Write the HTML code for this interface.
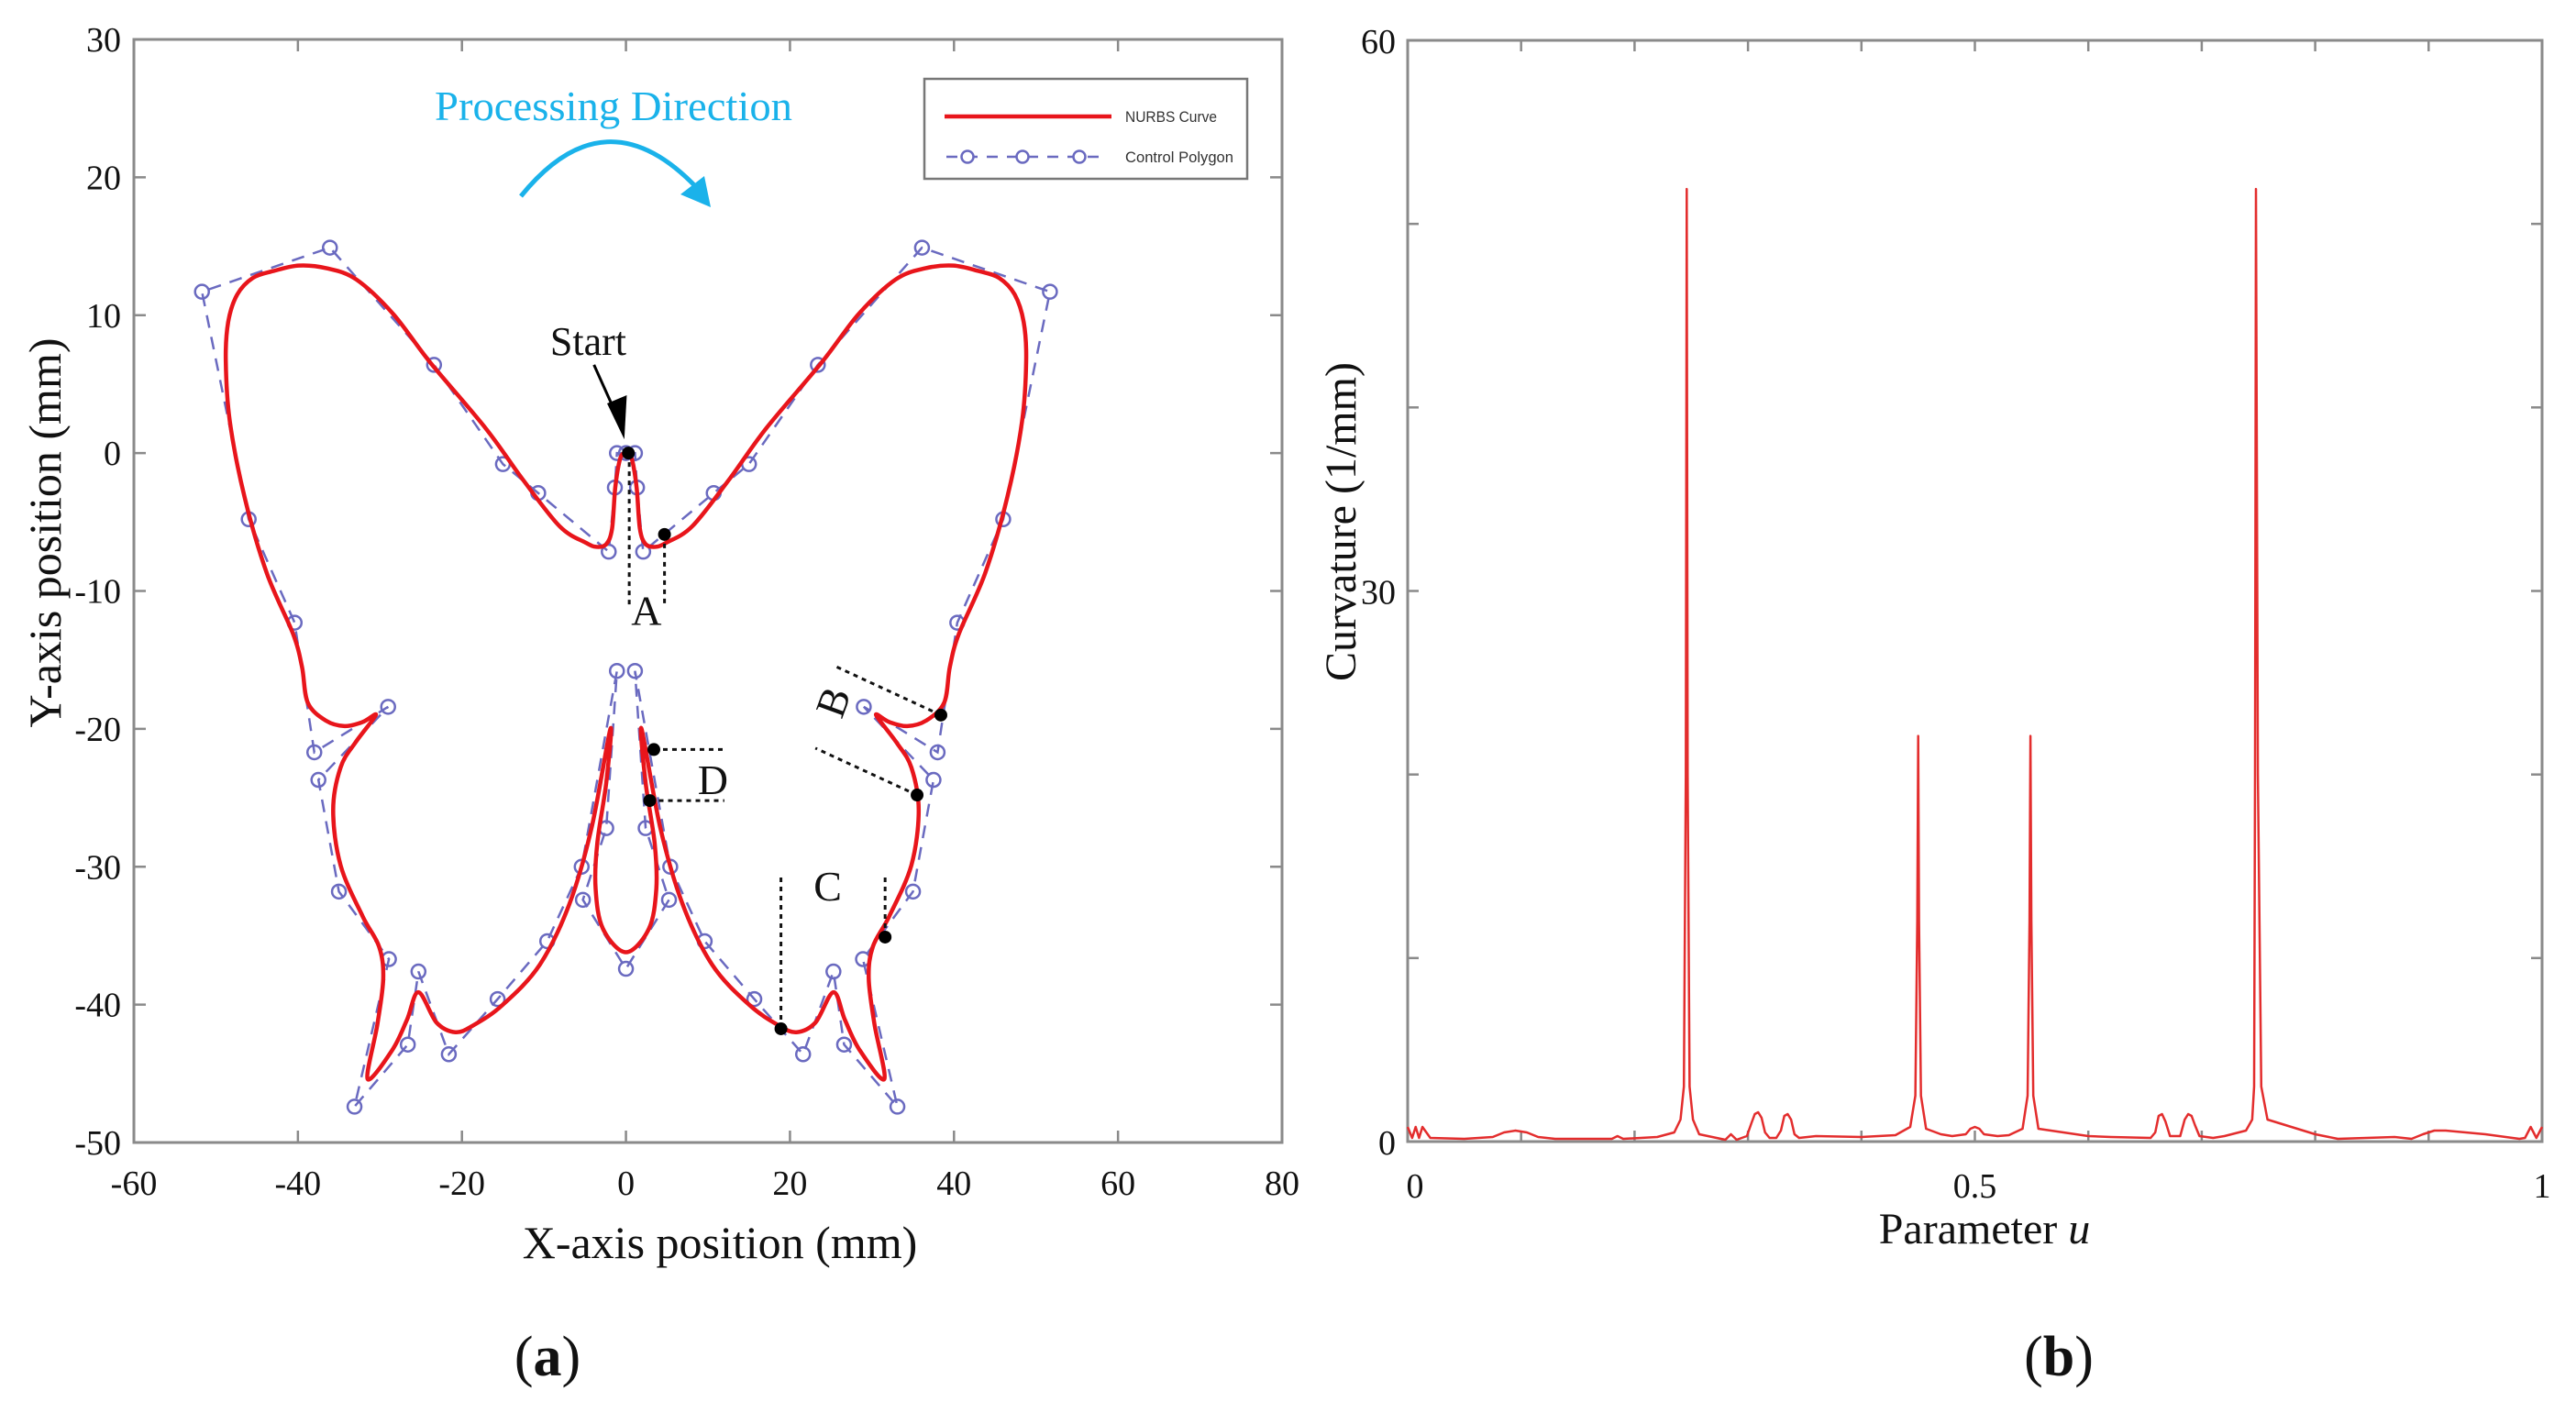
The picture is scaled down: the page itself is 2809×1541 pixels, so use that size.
<!DOCTYPE html>
<html><head><meta charset="utf-8"><style>
html,body{margin:0;padding:0;background:#fff}
svg{display:block}
.serif{font-family:"Liberation Serif",serif}
.sans{font-family:"Liberation Sans",sans-serif}
</style></head><body>
<svg id="fig" width="2809" height="1541" viewBox="0 0 2809 1541" xmlns="http://www.w3.org/2000/svg">
<g id="left"></g>
<g id="right"></g>
</svg>
<script>
// ---------- Left chart data ----------
const xTicksA = [-60,-40,-20,0,20,40,60,80];
const yTicksA = [30,20,10,0,-10,-20,-30,-40,-50];
const curveX = [0,-0.7,-1.3,-1.7,-2.4,-3.6,-4.9,-8.1,-12.6,-17.1,-23.9,-28.4,-32.9,-36.5,-39.9,-43,-45.5,-47.4,-48.5,-48.8,-48.3,-46.5,-43.8,-40.6,-39.5,-38.8,-36.6,-34.3,-32.1,-30.5,-33,-34.8,-35.7,-34.8,-32.1,-30.1,-29.6,-30.3,-31.5,-28.5,-26.7,-25.3,-23.1,-20.8,-18.6,-15,-10.5,-6.9,-4.2,-1.9,-2.4,-3.5,-3.7,-2.8,0];
const curveY = [0,-0.4,-2.5,-5.5,-6.6,-6.8,-6.5,-5.3,-1.9,1.8,6.6,10.1,12.6,13.4,13.6,13.2,12.7,11.5,9.5,6.7,2.3,-3.2,-8.7,-13.1,-15.5,-18.1,-19.4,-19.8,-19.5,-19.0,-21,-22.8,-25.9,-29.9,-33.6,-35.8,-38.1,-41.4,-45.4,-43.3,-41.1,-39.1,-41.3,-42.0,-41.5,-40,-37.1,-32.7,-27.2,-20.0,-23.9,-28.3,-31.6,-34.5,-36.2];
const ctrlX = [0,-1.1,-1.35,-2.1,-10.7,-15.0,-23.4,-36.1,-51.7,-46,-40.4,-38.0,-29.0,-37.5,-35.0,-28.9,-33.1,-26.6,-25.3,-21.6,-15.65,-9.6,-5.4,-1.1,-2.4,-5.25,0];
const ctrlY = [0,0,-2.5,-7.15,-2.9,-0.8,6.4,14.9,11.7,-4.8,-12.3,-21.7,-18.4,-23.7,-31.8,-36.7,-47.4,-42.9,-37.6,-43.6,-39.6,-35.4,-30.0,-15.8,-27.2,-32.4,-37.4];
const dotX = [0.3,4.7,3.4,2.9,38.4,35.5,18.9,31.6];
const dotY = [0,-5.9,-21.5,-25.2,-19.0,-24.8,-41.75,-35.1];

// ---------- Right chart data ----------
const uVals = [0,0.004,0.007,0.01,0.013,0.02,0.05,0.075,0.085,0.095,0.105,0.115,0.13,0.18,0.185,0.19,0.22,0.235,0.2405,0.2435,0.2452,0.246,0.2468,0.2485,0.2515,0.257,0.28,0.285,0.29,0.299,0.303,0.306,0.309,0.312,0.315,0.319,0.325,0.329,0.332,0.335,0.338,0.341,0.345,0.36,0.4,0.43,0.443,0.4475,0.4492,0.450,0.4508,0.4525,0.457,0.47,0.48,0.492,0.496,0.5,0.504,0.508,0.52,0.53,0.542,0.5465,0.5482,0.549,0.5498,0.5515,0.556,0.6,0.62,0.655,0.659,0.662,0.665,0.668,0.672,0.681,0.685,0.688,0.691,0.694,0.698,0.71,0.72,0.739,0.7445,0.7462,0.747,0.7478,0.7495,0.7525,0.758,0.8,0.82,0.87,0.885,0.895,0.905,0.915,0.95,0.98,0.985,0.99,0.995,1];
const kVals = [0.8,0.2,0.8,0.2,0.8,0.2,0.15,0.25,0.5,0.6,0.5,0.25,0.15,0.15,0.3,0.15,0.25,0.5,1.2,3,20,51.9,20,3,1.2,0.4,0.1,0.4,0.1,0.3,1.0,1.5,1.6,1.3,0.5,0.2,0.2,0.6,1.4,1.5,1.2,0.4,0.2,0.3,0.25,0.35,0.8,2.5,12,22.1,12,2.5,0.7,0.4,0.3,0.4,0.7,0.8,0.7,0.4,0.3,0.35,0.7,2.5,12,22.1,12,2.5,0.7,0.3,0.25,0.2,0.5,1.4,1.5,1.1,0.3,0.3,1.2,1.5,1.4,0.9,0.3,0.2,0.3,0.6,1.2,3,20,51.9,20,3,1.2,0.4,0.15,0.25,0.15,0.4,0.6,0.6,0.4,0.15,0.2,0.8,0.2,0.8,0.2,0.8];
const uTicks = [0,0.1,0.2,0.3,0.4,0.5,0.6,0.7,0.8,0.9,1];
const uTickLabels = ['0','0.5','1'];
const uTickLabelVals = [0,0.5,1];
const kTicks = [0,10,20,30,40,50,60];
const kTickLabels = ['0','30','60'];
const kTickLabelVals = [0,30,60];

const NS='http://www.w3.org/2000/svg';
function mk(tag, attrs, parent){const e=document.createElementNS(NS,tag);for(const k in attrs)e.setAttribute(k,attrs[k]);parent.appendChild(e);return e;}

// ---------- Left chart ----------
(function(){
const g=document.getElementById('left');
const L=146,R=1398,T=43,B=1246;
const sx=x=>L+(x+60)/140*(R-L);
const sy=y=>T+(30-y)/80*(B-T);
let e;
e=mk('rect',{x:L,y:T,width:R-L,height:B-T,fill:'none',stroke:'#8a8a8a','stroke-width':3},g);


xTicksA.forEach(v=>{
  mk('line',{x1:sx(v),x2:sx(v),y1:B,y2:B-13,stroke:'#8a8a8a','stroke-width':2.5},g);
  mk('line',{x1:sx(v),x2:sx(v),y1:T,y2:T+13,stroke:'#8a8a8a','stroke-width':2.5},g);
  const t=mk('text',{x:sx(v),y:1303,'text-anchor':'middle','font-size':38,class:'serif',fill:'#111'},g);
  t.textContent=String(v);
  
  
});
yTicksA.forEach(v=>{
  mk('line',{x1:L,x2:L+13,y1:sy(v),y2:sy(v),stroke:'#8a8a8a','stroke-width':2.5},g);
  mk('line',{x1:R,x2:R-13,y1:sy(v),y2:sy(v),stroke:'#8a8a8a','stroke-width':2.5},g);
  const t=mk('text',{x:132,y:sy(v)+13,'text-anchor':'end','font-size':38,class:'serif',fill:'#111'},g);
  t.textContent=String(v);
  
  
});
const cx=ctrlX.slice(), cy=ctrlY.slice();
for(let i=ctrlX.length-2;i>=1;i--){cx.push(-ctrlX[i]);cy.push(ctrlY[i]);}
let pts=cx.map((x,i)=>sx(x)+','+sy(cy[i])).join(' ');
e=mk('polygon',{points:pts,fill:'none',stroke:'#6a6ac0','stroke-width':2.5,'stroke-dasharray':'14 10'},g);


cx.forEach((x,i)=>{
  const c=mk('circle',{cx:sx(x),cy:sy(cy[i]),r:7.5,fill:'none',stroke:'#6a6ac0','stroke-width':2.5},g);
  
  
});
const px=curveX.slice(), py=curveY.slice();
for(let i=curveX.length-2;i>=1;i--){px.push(-curveX[i]);py.push(curveY[i]);}
const P=px.map((x,i)=>[sx(x),sy(py[i])]);
const n=P.length;
let d='M'+P[0][0]+','+P[0][1];
for(let i=0;i<n;i++){
  const p0=P[(i-1+n)%n],p1=P[i],p2=P[(i+1)%n],p3=P[(i+2)%n];
  const c1=[p1[0]+(p2[0]-p0[0])/6,p1[1]+(p2[1]-p0[1])/6];
  const c2=[p2[0]-(p3[0]-p1[0])/6,p2[1]-(p3[1]-p1[1])/6];
  d+=' C'+c1[0].toFixed(1)+','+c1[1].toFixed(1)+' '+c2[0].toFixed(1)+','+c2[1].toFixed(1)+' '+p2[0].toFixed(1)+','+p2[1].toFixed(1);
}
e=mk('path',{d:d,fill:'none',stroke:'#e8151b','stroke-width':4.5,'stroke-linejoin':'round'},g);


const dl=(x1,y1,x2,y2)=>{const l=mk('line',{x1:sx(x1),y1:sy(y1),x2:sx(x2),y2:sy(y2),stroke:'#111','stroke-width':3,'stroke-dasharray':'5 5'},g);};
dl(0.4,0,0.4,-11.2); dl(4.7,-5.9,4.7,-10.9);
dl(3.4,-21.5,11.8,-21.5); dl(2.9,-25.2,12.0,-25.2);
dl(38.4,-19,25.3,-15.4); dl(35.5,-24.8,23.1,-21.4);
dl(18.9,-41.75,18.9,-30.6); dl(31.6,-35.1,31.6,-30.6);
dotX.forEach((x,i)=>{
  const c=mk('circle',{cx:sx(x),cy:sy(dotY[i]),r:7,fill:'#000'},g);
  
  
});
const lab=(txt,x,y,size,name,extra)=>{const t=mk('text',Object.assign({x:x,y:y,'text-anchor':'middle','font-size':size,class:'serif',fill:'#111'},extra||{}),g);t.textContent=txt;return t;};
lab('A',sx(2.5),sy(-11)+22,46,'label-a');
lab('D',sx(10.6),sy(-23.4)+20,46,'label-d');
lab('C',sx(24.6),sy(-31.1)+20,46,'label-c');
lab('B',0,0,46,'label-b',{transform:'translate('+(sx(25.1)+16)+','+sy(-18.4)+') rotate(-70)'});
lab('Start',sx(-4.6),sy(8.2)+16,44,'start-label');
e=mk('line',{x1:sx(-3.9),y1:sy(6.4),x2:sx(-0.8),y2:sy(2.3),stroke:'#000','stroke-width':3},g);


e=mk('polygon',{points:(sx(-0.2))+','+(sy(1.0))+' '+(sx(-2.3))+','+(sy(3.6))+' '+(sx(0.1))+','+(sy(4.2)),fill:'#000'},g);


lab('Processing Direction',669,131,46,'processing-direction-label',{fill:'#1ab2ea',textLength:390,lengthAdjust:'spacingAndGlyphs'});
e=mk('path',{d:'M568,214 Q660,100 760,205',fill:'none',stroke:'#1ab2ea','stroke-width':5},g);


e=mk('polygon',{points:'775,226 742,212 768,192',fill:'#1ab2ea'},g);


const lg=mk('g',{},g);


mk('rect',{x:1008,y:86,width:352,height:109,fill:'#fff',stroke:'#777','stroke-width':2.5},lg);
mk('line',{x1:1030,x2:1212,y1:127,y2:127,stroke:'#e8151b','stroke-width':4.5},lg);
mk('line',{x1:1032,x2:1205,y1:171,y2:171,stroke:'#6a6ac0','stroke-width':2.5,'stroke-dasharray':'12 10'},lg);
[1055,1115,1177].forEach(x=>mk('circle',{cx:x,cy:171,r:6.5,fill:'#fff',stroke:'#6a6ac0','stroke-width':2.5},lg));
let t=mk('text',{x:1227,y:133,'font-size':17,class:'sans',fill:'#333',textLength:100,lengthAdjust:'spacingAndGlyphs'},lg);t.textContent='NURBS Curve';


t=mk('text',{x:1227,y:177,'font-size':17,class:'sans',fill:'#333',textLength:118,lengthAdjust:'spacingAndGlyphs'},lg);t.textContent='Control Polygon';


lab('X-axis position (mm)',785,1372,50,'x-axis-title');
lab('Y-axis position (mm)',0,0,50,'y-axis-title',{transform:'translate(66,581) rotate(-90)'});
t=lab('',597,1500,62,'panel-label-a');
t.innerHTML='(<tspan font-weight="bold">a</tspan>)';
})();

// ---------- Right chart ----------
(function(){
const g=document.getElementById('right');
const L=1535,R=2772,T=44,B=1245;
const sx=u=>L+u*(R-L);
const sy=k=>B-k/60*(B-T);
let e=mk('rect',{x:L,y:T,width:R-L,height:B-T,fill:'none',stroke:'#8a8a8a','stroke-width':3},g);


uTicks.forEach(v=>{
  mk('line',{x1:sx(v),x2:sx(v),y1:B,y2:B-12,stroke:'#8a8a8a','stroke-width':2.5},g);
  mk('line',{x1:sx(v),x2:sx(v),y1:T,y2:T+12,stroke:'#8a8a8a','stroke-width':2.5},g);
});
kTicks.forEach(v=>{
  mk('line',{x1:L,x2:L+12,y1:sy(v),y2:sy(v),stroke:'#8a8a8a','stroke-width':2.5},g);
  mk('line',{x1:R,x2:R-12,y1:sy(v),y2:sy(v),stroke:'#8a8a8a','stroke-width':2.5},g);
});
uTickLabels.forEach((s,i)=>{
  const t=mk('text',{x:sx(uTickLabelVals[i])+(i===0?8:0),y:1306,'text-anchor':'middle','font-size':38,class:'serif',fill:'#111'},g);
  t.textContent=s;
  
  
});
kTickLabels.forEach((s,i)=>{
  const t=mk('text',{x:1522,y:sy(kTickLabelVals[i])+14,'text-anchor':'end','font-size':38,class:'serif',fill:'#111'},g);
  t.textContent=s;
  
  
});
const pts=uVals.map((u,i)=>sx(u).toFixed(1)+','+sy(kVals[i]).toFixed(1)).join(' ');
e=mk('polyline',{points:pts,fill:'none',stroke:'#e32d2d','stroke-width':2.5,'stroke-linejoin':'round'},g);


let t=mk('text',{x:2164,y:1356,'text-anchor':'middle','font-size':48,class:'serif',fill:'#111'},g);
t.innerHTML='Parameter <tspan font-style="italic">u</tspan>';


t=mk('text',{x:0,y:0,'text-anchor':'middle','font-size':48,class:'serif',fill:'#111',transform:'translate(1478,569) rotate(-90)'},g);
t.textContent='Curvature (1/mm)';


t=mk('text',{x:2245,y:1500,'text-anchor':'middle','font-size':62,class:'serif',fill:'#111'},g);
t.innerHTML='(<tspan font-weight="bold">b</tspan>)';


})();
</script>
</body></html>
